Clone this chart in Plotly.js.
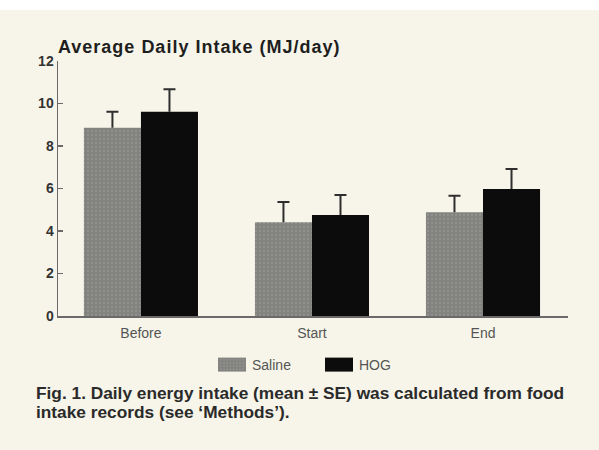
<!DOCTYPE html>
<html>
<head>
<meta charset="utf-8">
<script src="https://cdn.plot.ly/plotly-3.0.1.min.js"></script>
<style>
html,body{margin:0;padding:0;background:#ffffff;}
#chart{position:absolute;left:0;top:10px;width:599px;height:440px;}
#chart .gtitle{letter-spacing:1.0px;}
</style>
</head>
<body>
<div id="chart"></div>
<script>
const categories = ['Before', 'Start', 'End'];
const salineMean = [8.86, 4.41, 4.88];
const salineSE = [0.75, 0.95, 0.78];
const hogMean = [9.61, 4.75, 5.98];
const hogSE = [1.06, 0.94, 0.94];
const zeros = [0, 0, 0];
const yTicks = [0, 2, 4, 6, 8, 10, 12];
const seriesNames = ['Saline', 'HOG'];
const captionLines = [
  'Fig. 1. Daily energy intake (mean \u00b1 SE) was calculated from food',
  'intake records (see \u2018Methods\u2019).'
];

const FONT = 'Liberation Sans, Arial, Helvetica, sans-serif';
const BG = '#f7f5e9';

const traces = [
  {
    type: 'bar', name: seriesNames[0], x: categories, y: salineMean,
    marker: {
      color: '#82827f',
      line: {width: 0},
      pattern: {shape: '.', fgcolor: '#a0a09c', size: 4, solidity: 0.25, fillmode: 'overlay'}
    },
    error_y: {type: 'data', symmetric: false, array: salineSE, arrayminus: zeros,
              color: '#2e2e2e', thickness: 2, width: 6}
  },
  {
    type: 'bar', name: seriesNames[1], x: categories, y: hogMean,
    marker: {color: '#0c0c0c', line: {width: 0}},
    error_y: {type: 'data', symmetric: false, array: hogSE, arrayminus: zeros,
              color: '#2e2e2e', thickness: 2, width: 6}
  }
];

const captionFont = {family: FONT, size: 17.3, weight: 'bold', color: '#2a2a2a'};

const layout = {
  width: 599, height: 440,
  paper_bgcolor: BG, plot_bgcolor: BG,
  margin: {l: 58, r: 31, t: 51, b: 134},
  barmode: 'group', bargap: 0.333, bargroupgap: 0,
  font: {family: FONT, color: '#333'},
  title: {
    text: 'Average Daily Intake (MJ/day)',
    font: {family: FONT, size: 18, weight: 'bold', color: '#1e1e1e'},
    xref: 'container', x: 58 / 599, xanchor: 'left',
    yref: 'container', y: 1 - 37 / 440, yanchor: 'middle'
  },
  xaxis: {
    type: 'category', range: [-0.485, 2.497],
    showline: true, linecolor: '#6a6a6a', linewidth: 1.5,
    ticks: '', showgrid: false, zeroline: false,
    tickfont: {family: FONT, size: 14, color: '#555'},
    ticklabelstandoff: 4
  },
  yaxis: {
    range: [0, 12], tickvals: yTicks, ticktext: yTicks.map(String),
    showline: true, linecolor: '#6a6a6a', linewidth: 1.5,
    ticks: 'inside', ticklen: 5, tickwidth: 1.5, tickcolor: '#6a6a6a',
    showgrid: false, zeroline: false,
    tickfont: {family: FONT, size: 14, weight: 'bold', color: '#333'}
  },
  showlegend: true,
  legend: {
    orientation: 'h', xref: 'container', yref: 'container',
    x: 212 / 599, xanchor: 'left', y: 1 - 355 / 440, yanchor: 'middle',
    bgcolor: 'rgba(0,0,0,0)', itemwidth: 30,
    entrywidth: 62, entrywidthmode: 'pixels',
    font: {family: FONT, size: 14, color: '#555'}
  },
  annotations: captionLines.map(function (line, i) {
    return {
      xref: 'paper', yref: 'paper', x: -24 / 510, y: -(77 + 19 * i) / 255,
      xanchor: 'left', yanchor: 'middle', align: 'left', showarrow: false,
      text: line, font: captionFont
    };
  })
};

Plotly.newPlot('chart', traces, layout, {staticPlot: true, displayModeBar: false}).then(function (gd) {
  gd.querySelectorAll('.legend .legendpoints path').forEach(function (p) {
    p.setAttribute('d', 'M14,7H-14V-7H14Z');
  });
  gd.querySelectorAll('.errorbar path').forEach(function (p) {
    var d = p.getAttribute('d') || '';
    p.setAttribute('d', d.replace(/m-?[\d.]+,0h[\d.]+$/, ''));
  });
});
</script>
</body>
</html>
